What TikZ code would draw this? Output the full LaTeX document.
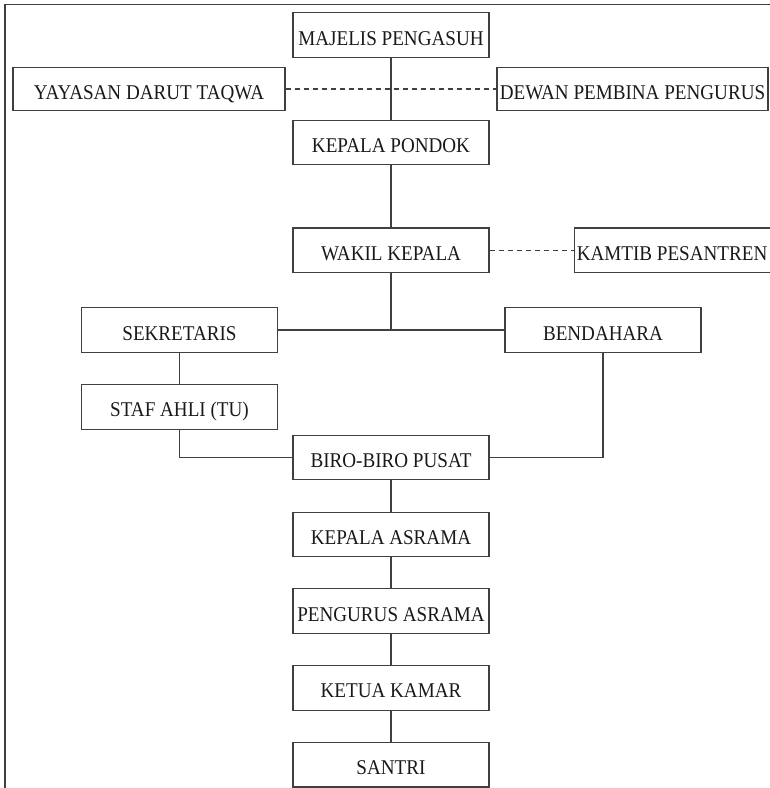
\documentclass[tikz,border=0pt]{standalone}
\usepackage{fontspec}
\setmainfont[FakeStretch=0.91]{Liberation Serif}
\usetikzlibrary{positioning}

\tikzset{
  box/.style={draw=black!75, rectangle, minimum width=196pt, minimum height=44.5pt,
    inner sep=0pt, text height=20pt, text depth=0pt, text=black!90},
  dotline/.style={draw=black!75, dash pattern=on 5pt off 4pt},
  link/.style={draw=black!75}
}

\begin{document}
\begin{tikzpicture}[x=1pt, y=-1pt, line width=1.1pt, font=\fontsize{21}{23}\selectfont, node distance=31.2pt]
  \useasboundingbox (0,0) rectangle (770,788);
  \draw[link] (5,788) -- (5,4.3) -- (770,4.3);

  \node[box]                        (majelis) at (391,35)    {MAJELIS PENGASUH};
  \node[box, minimum width=272pt, minimum height=43pt] (yayasan) at (149,89) {YAYASAN DARUT TAQWA};
  \node[box, minimum width=271pt, minimum height=43pt] (dewan)   at (632.5,89) {DEWAN PEMBINA PENGURUS};
  \node[box, below=62pt of majelis] (kepala)  {KEPALA PONDOK};
  \node[box, below=62pt of kepala]  (wakil)   {WAKIL KEPALA};
  \node[box, right=84pt of wakil]   (kamtib)  {KAMTIB PESANTREN};
  \node[box]                        (sekretaris) at (179.5,330) {SEKRETARIS};
  \node[box]                        (bendahara)  at (603,330)   {BENDAHARA};
  \node[box, below=of sekretaris]   (staf)    {STAF AHLI (TU)};
  \node[box]                        (biro)    at (391,457.5) {BIRO-BIRO PUSAT};
  \node[box, below=of biro]         (asrama)  {KEPALA ASRAMA};
  \node[box, below=of asrama]       (pengurus) {PENGURUS ASRAMA};
  \node[box, below=of pengurus]     (ketua)   {KETUA KAMAR};
  \node[box, below=of ketua]        (santri)  {SANTRI};

  \draw[link] (majelis) -- (kepala);
  \draw[dotline] (yayasan) -- (dewan); % garis koordinasi
  \draw[link] (kepala) -- (wakil);
  \draw[dotline] (wakil) -- (kamtib);
  \draw[link] (wakil.south) |- (sekretaris.east);
  \draw[link] (wakil.south) |- (bendahara.west);
  \draw[link] (sekretaris) -- (staf);
  \draw[link] (staf.south) |- (biro.west);
  \draw[link] (bendahara.south) |- (biro.east);
  \draw[link] (biro) -- (asrama);
  \draw[link] (asrama) -- (pengurus);
  \draw[link] (pengurus) -- (ketua);
  \draw[link] (ketua) -- (santri);
\end{tikzpicture}
\end{document}
